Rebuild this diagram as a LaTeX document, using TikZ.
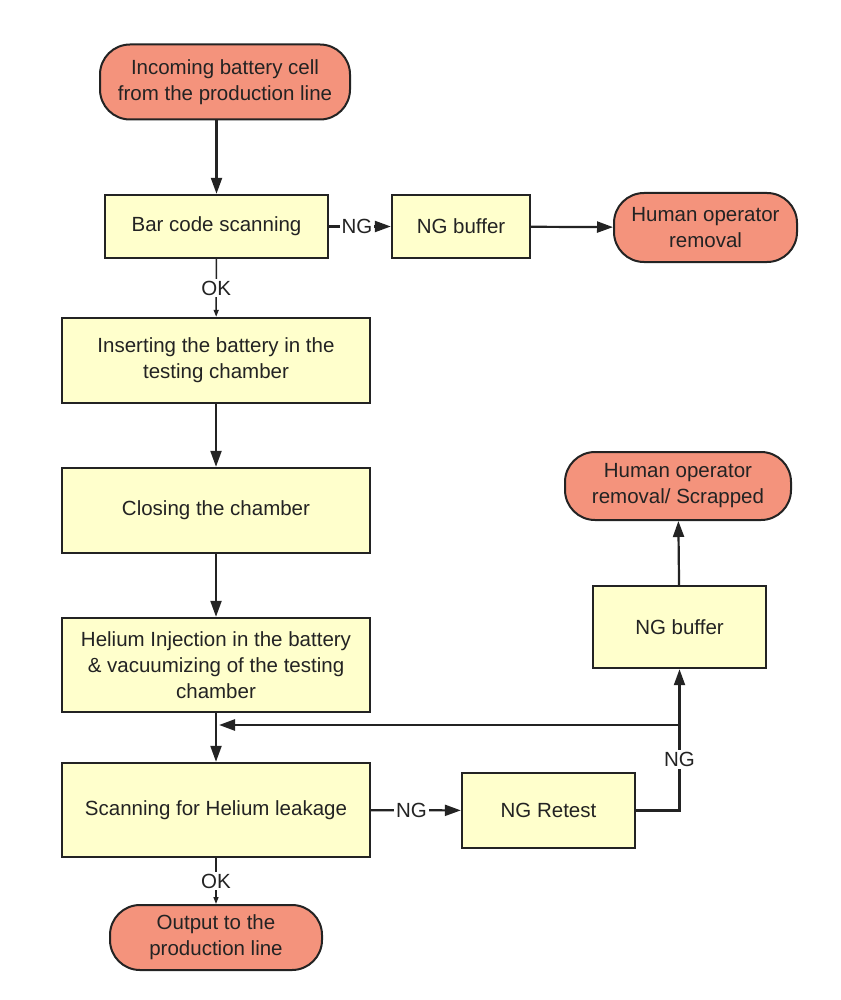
\documentclass[tikz,border=0pt]{standalone}
\usepackage{fontspec}
\setmainfont{Liberation Sans}
\usetikzlibrary{arrows.meta}
\definecolor{salmon}{RGB}{244,147,124}
\definecolor{pale}{RGB}{255,255,204}
\definecolor{edgec}{RGB}{35,35,35}
\begin{document}
\begin{tikzpicture}[x=1pt,y=-1pt,
  font=\fontsize{20.5}{26}\selectfont,
  proc/.style={draw=edgec, line width=2.4pt, fill=pale, align=center, inner sep=0pt, text=edgec},
  term/.style={draw=edgec, line width=2pt, fill=salmon, rounded corners=30pt, align=center, inner sep=0pt, text=edgec},
  flow/.style={draw=edgec, line width=2.2pt, -{Triangle[length=16pt,width=11pt]}},
  okflow/.style={draw=edgec, line width=1.5pt, -{Triangle[length=7pt,width=5pt]}},
  lab/.style={fill=white, inner sep=2pt, text=edgec}]
\useasboundingbox (0,0) rectangle (840,1000);
\fill[white] (0,0) rectangle (840,1000);

\node[term, minimum width=250, minimum height=75] (start) at (225,82) {Incoming battery cell\\from the production line};
\node[proc, minimum width=223, minimum height=63] (bar) at (216.5,226.5) {Bar code scanning};
\node[proc, minimum width=138, minimum height=63] (ngb1) at (461,226.5) {NG buffer};
\node[term, minimum width=183, minimum height=69] (hum1) at (705.5,227.5) {Human operator\\removal};
\node[proc, minimum width=308, minimum height=85] (ins) at (216,360.5) {Inserting the battery in the\\testing chamber};
\node[proc, minimum width=308, minimum height=85] (close) at (216,510.5) {Closing the chamber};
\node[proc, minimum width=308, minimum height=94] (he) at (216,665) {Helium Injection in the battery\\\& vacuumizing of the testing\\chamber};
\node[proc, minimum width=308, minimum height=94] (scan) at (216,810) {Scanning for Helium leakage};
\node[proc, minimum width=173, minimum height=75] (retest) at (548.5,810.5) {NG Retest};
\node[proc, minimum width=173, minimum height=82] (ngb2) at (679.5,627) {NG buffer};
\node[term, minimum width=226, minimum height=68] (hum2) at (678,486) {Human operator\\removal/ Scrapped};
\node[term, minimum width=212, minimum height=65] (out) at (216,937.5) {Output to the\\production line};

\coordinate (br) at (679.5,725);

\draw[flow] (start.south -| bar.north) -- (bar.north);
\draw[flow] (bar) -- node[lab, pos=0.45]{NG} (ngb1);
\draw[flow] (ngb1) -- (hum1);
\draw[okflow] (bar) -- node[lab]{OK} (ins);
\draw[flow] (ins) -- (close);
\draw[flow] (close) -- (he);
\draw[flow] (he) -- (scan);
\draw[flow] (scan) -- node[lab, pos=0.45]{NG} (retest);
\draw[flow] (retest.east) -| node[lab, pos=0.68]{NG} (ngb2.south);
\draw[flow, line width=2.6pt, shorten >=3pt] (br) -- (he.south |- br);
\draw[flow] (ngb2) -- (hum2);
\draw[okflow] (scan) -- node[lab]{OK} (out);
\end{tikzpicture}
\end{document}
